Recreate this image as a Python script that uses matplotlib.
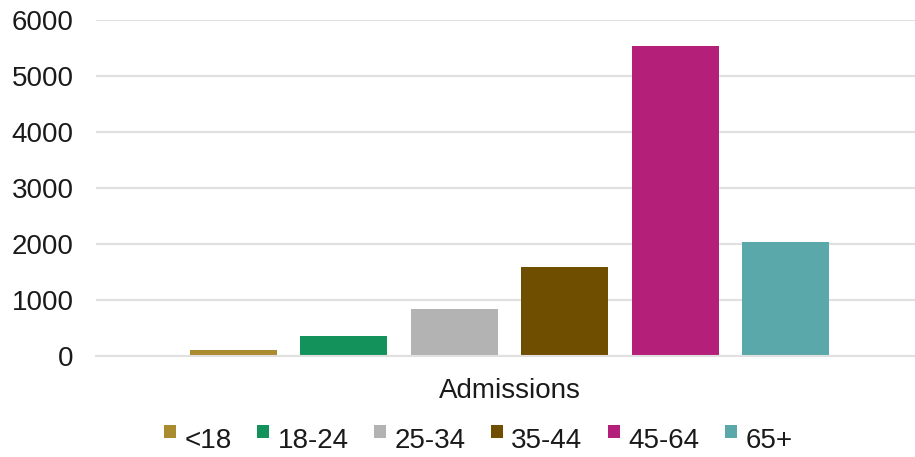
import matplotlib
matplotlib.use("Agg")
import matplotlib.pyplot as plt
from matplotlib.patches import Patch, Rectangle
from matplotlib.legend_handler import HandlerPatch

categories = ["Admissions"]
series = ["<18", "18-24", "25-34", "35-44", "45-64", "65+"]
values = [107, 356, 838, 1586, 5528, 2032]
colors = ["#AB8B2F", "#13935B", "#B3B3B3", "#6F4E00", "#B31F79", "#5BA8AA"]
yticks = [0, 1000, 2000, 3000, 4000, 5000, 6000]

plt.rcParams['font.family'] = ['Liberation Sans', 'DejaVu Sans']
FS = 20
TXT = "#1A1A1A"

fig = plt.figure(figsize=(9.15, 4.57), dpi=100)
ax = fig.add_axes([96/915, 1-356/457, 1-96/915, (356-19.5)/457])

x = list(range(len(series)))
ax.bar(x, values, width=0.787, color=colors, zorder=2)

ax.set_xlim(-1.244, 5 + 1.172)
ax.set_ylim(0, 6000)
ax.set_yticks(yticks)
ax.set_yticklabels([str(t) for t in yticks], fontsize=FS, color=TXT)
ax.set_xticks([2.5])
ax.set_xticklabels(categories, fontsize=FS, color=TXT)
ax.tick_params(axis='both', length=0)
ax.tick_params(axis='y', pad=16)
ax.tick_params(axis='x', pad=16)
ax.yaxis.grid(True, color="#E0E0E0", linewidth=1.5, zorder=0)
ax.set_axisbelow(True)
for s in ["top", "right", "left"]:
    ax.spines[s].set_visible(False)
ax.spines["bottom"].set_color("#E0E0E0")
ax.spines["bottom"].set_linewidth(1.5)


def square_top(legend, orig_handle, xdescent, ydescent, width, height, fontsize):
    side = width
    return Rectangle((-xdescent, -ydescent + height - side + 0.12 * fontsize), side, side)


handles = [Patch(facecolor=c, edgecolor='none') for c in colors]
leg = fig.legend(handles, series, loc='center', bbox_to_anchor=(478/915, 1-441/457),
                 ncol=6, frameon=False, fontsize=FS, handlelength=0.45, handleheight=0.7,
                 handletextpad=0.3, columnspacing=0.9, borderaxespad=0,
                 handler_map={Patch: HandlerPatch(patch_func=square_top)})
for t in leg.get_texts():
    t.set_color(TXT)

fig.savefig("out.png", dpi=100)
